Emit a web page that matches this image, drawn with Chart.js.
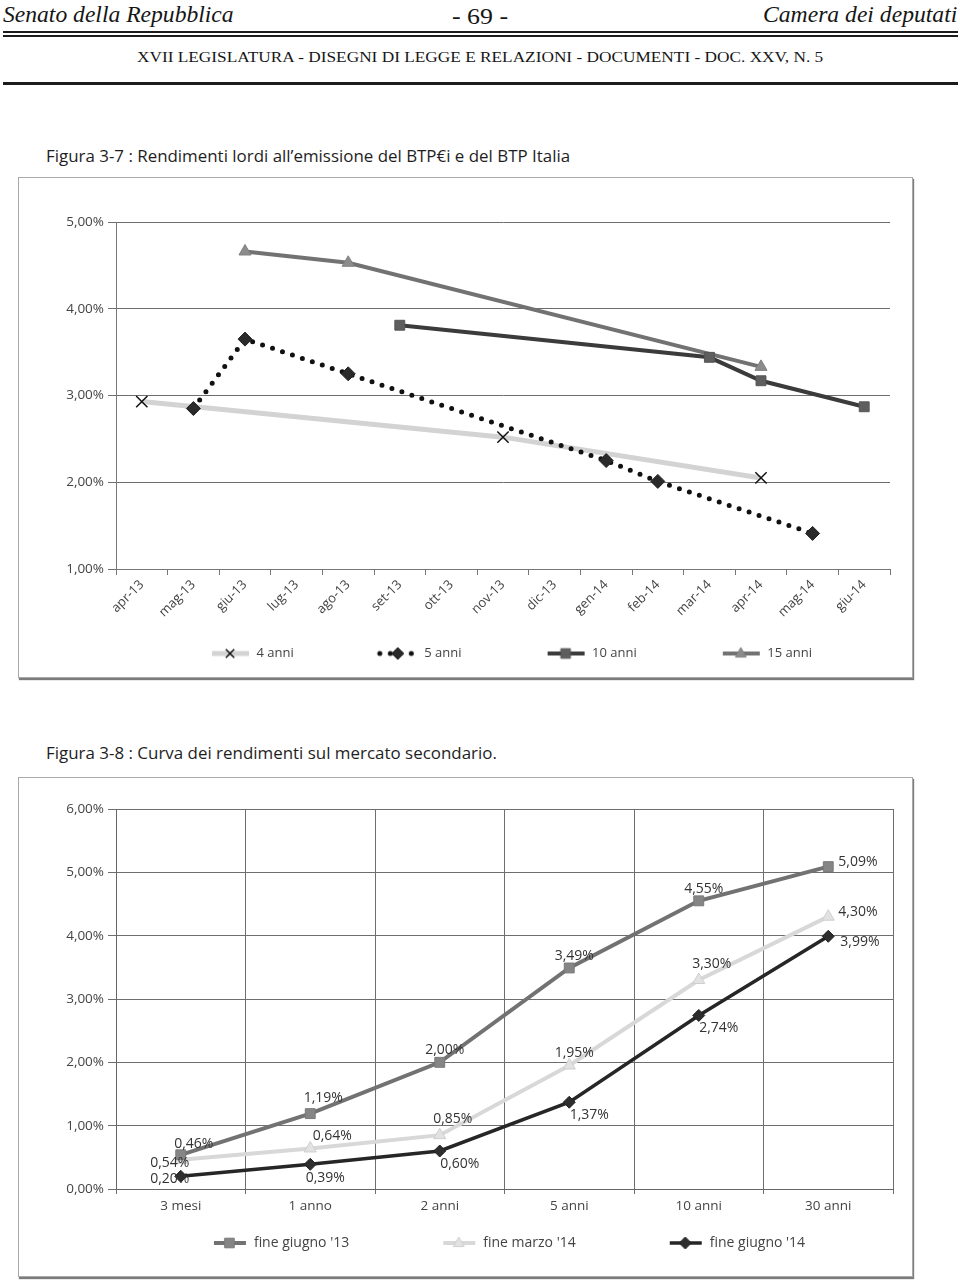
<!DOCTYPE html>
<html lang="it">
<head>
<meta charset="utf-8">
<title>Rendimenti BTP - Figure 3-7 e 3-8</title>
<script src="https://cdn.jsdelivr.net/npm/chart.js@4.4.1/dist/chart.umd.min.js"></script>
<style>
  body { margin: 0; background: #fff; }
  #pagina { position: relative; width: 960px; height: 1281px; overflow: hidden; background: #fff; }
  .testo { position: absolute; white-space: nowrap; transform-origin: 0 50%; }
  .serif { font-family: 'Liberation Serif', 'DejaVu Serif', serif; color: #161616; }
  .riga { position: absolute; left: 3px; width: 955px; background: #1c1c1c; }
  .titolo { font-family: 'Open Sans', sans-serif; font-size: 17px; line-height: 17px; color: #1e1e1e; }
  .riquadro { position: absolute; left: 18px; width: 895px; box-sizing: border-box; border: 1px solid #a9a9a9; box-shadow: 1px 2px 1px #7c7c7c; background: #fff; }
  .riquadro canvas { display: block; }
</style>
</head>
<body>
<div id="pagina">
  <div class="testo serif" style="left:3px; top:2px; font-size:24px; line-height:24px; font-style:italic;" data-w="231">Senato della Repubblica</div>
  <div class="testo serif" style="left:452px; top:4px; font-size:24px; line-height:24px;" data-w="56">- 69 -</div>
  <div class="testo serif" style="left:763px; top:2px; font-size:24px; line-height:24px; font-style:italic;" data-w="194">Camera dei deputati</div>
  <div class="riga" style="top:31px; height:2px;"></div>
  <div class="riga" style="top:35px; height:1.5px;"></div>
  <div class="testo serif" style="left:137px; top:51px; font-size:14px; line-height:14px;" data-w="686">XVII LEGISLATURA - DISEGNI DI LEGGE E RELAZIONI - DOCUMENTI - DOC. XXV, N. 5</div>
  <div class="riga" style="top:82px; height:2.5px;"></div>

  <div class="testo titolo" style="left:46px; top:147px;" data-w="524">Figura 3-7 : Rendimenti lordi all’emissione del BTP€i e del BTP Italia</div>
  <div class="riquadro" style="top:177px; height:501px;"><canvas id="grafico1" width="893" height="499"></canvas></div>

  <div class="testo titolo" style="left:46px; top:744px;" data-w="451">Figura 3-8 : Curva dei rendimenti sul mercato secondario.</div>
  <div class="riquadro" style="top:777px; height:500px;"><canvas id="grafico2" width="893" height="498"></canvas></div>
</div>

<script>
// Figura 3-7: rendimenti lordi all'emissione
const mesi = ['apr-13', 'mag-13', 'giu-13', 'lug-13', 'ago-13', 'set-13', 'ott-13', 'nov-13',
              'dic-13', 'gen-14', 'feb-14', 'mar-14', 'apr-14', 'mag-14', 'giu-14'];
const anni4  = [2.93, null, null, null, null, null, null, 2.52, null, null, null, null, 2.05, null, null];
const anni5  = [null, 2.85, 3.65, null, 3.25, null, null, null, null, 2.25, 2.01, null, null, 1.41, null];
const anni10 = [null, null, null, null, null, 3.81, null, null, null, null, null, 3.44, 3.17, null, 2.87];
const anni15 = [null, null, 4.66, null, 4.53, null, null, null, null, null, null, null, 3.33, null, null];
const tickGrafico1 = [1, 5, 1]; // min, max, passo

// Figura 3-8: curva dei rendimenti sul mercato secondario
const scadenze = ['3 mesi', '1 anno', '2 anni', '5 anni', '10 anni', '30 anni'];
const giugno13 = [0.54, 1.19, 2.00, 3.49, 4.55, 5.09];
const marzo14  = [0.46, 0.64, 0.85, 1.95, 3.30, 4.30];
const giugno14 = [0.20, 0.39, 0.60, 1.37, 2.74, 3.99];
const tickGrafico2 = [0, 6, 1];

const FONT = "'Open Sans', sans-serif";
const GRIGIO_TESTO = '#444';

// adatta in larghezza i testi della pagina (font condensati nell'originale)
document.querySelectorAll('[data-w]').forEach(el => {
    const w = parseFloat(el.dataset.w);
    el.style.transform = `scaleX(${w / el.offsetWidth})`;
});

function percento(v) {
    return v.toFixed(2).replace('.', ',') + '%';
}

// disegna un marcatore come quelli di Excel
function marcatore(g, stile, x, y, r) {
    g.beginPath();
    if (stile === 'rect') {
        g.rect(x - r * 0.8, y - r * 0.8, r * 1.6, r * 1.6);
    } else if (stile === 'triangle') {
        g.moveTo(x, y - r);
        g.lineTo(x + r * 0.9, y + r * 0.6);
        g.lineTo(x - r * 0.9, y + r * 0.6);
        g.closePath();
    } else if (stile === 'rectRot') {
        g.moveTo(x, y - r); g.lineTo(x + r, y); g.lineTo(x, y + r); g.lineTo(x - r, y);
        g.closePath();
    } else if (stile === 'crossRot') {
        const d = r * 0.7;
        g.moveTo(x - d, y - d); g.lineTo(x + d, y + d);
        g.moveTo(x + d, y - d); g.lineTo(x - d, y + d);
        g.stroke();
        return;
    }
    g.fill();
    g.stroke();
}

// icona di legenda: spazio vuoto a sinistra, poi linea con marcatore
function iconaLegenda(ds, vuoto, lungo, raggio) {
    const c = document.createElement('canvas');
    c.width = vuoto + lungo;
    c.height = 16;
    const g = c.getContext('2d');
    g.strokeStyle = ds.borderColor;
    g.lineWidth = ds.borderWidth;
    g.lineCap = ds.borderCapStyle || 'butt';
    g.setLineDash(ds.borderDash || []);
    g.beginPath();
    g.moveTo(vuoto + 2, 8);
    g.lineTo(vuoto + lungo - 1, 8);
    g.stroke();
    g.setLineDash([]);
    g.lineCap = 'butt';
    g.fillStyle = ds.pointBackgroundColor;
    g.strokeStyle = ds.pointBorderColor;
    g.lineWidth = ds.pointBorderWidth;
    marcatore(g, ds.pointStyle, vuoto + lungo / 2, 8, raggio);
    return c;
}

function legendaConLinee(vuoto, lungo, raggio) {
    return function (chart) {
        return chart.data.datasets.map((ds, i) => ({
            text: ds.label,
            pointStyle: iconaLegenda(ds, vuoto, lungo, raggio),
            datasetIndex: i,
            hidden: false,
            lineWidth: 0,
            fontColor: GRIGIO_TESTO
        }));
    };
}

// posizioni delle etichette rispetto al punto
const spostamenti = {
    sopra:    [5, -12, 'center'],
    sopraDx:  [22, -12, 'center'],
    sopraDx2: [13, -16, 'center'],
    sotto:    [15, 14, 'center'],
    sottoDx:  [20, 13, 'center'],
    sottoSx:  [-11, 8, 'center'],
    sinistra: [-11, 3, 'center'],
    destra:   [10, -5, 'left'],
    destraGiu:[12, 6, 'left']
};

const etichetteDati = {
    id: 'etichetteDati',
    afterDatasetsDraw(chart) {
        const ctx = chart.ctx;
        ctx.save();
        ctx.font = '14px ' + FONT;
        ctx.fillStyle = '#333';
        ctx.textBaseline = 'middle';
        chart.data.datasets.forEach((ds, i) => {
            if (!ds.etichette) return;
            chart.getDatasetMeta(i).data.forEach((pt, j) => {
                const [dx, dy, al] = spostamenti[ds.etichette[j]];
                ctx.textAlign = al;
                ctx.fillText(percento(ds.data[j]), pt.x + dx, pt.y + dy);
            });
        });
        ctx.restore();
    }
};

// ---------- Figura 3-7 ----------
const ctx1 = document.getElementById('grafico1').getContext('2d');
new Chart(ctx1, {
    type: 'line',
    data: {
        labels: mesi,
        datasets: [{
            label: '4 anni',
            data: anni4,
            borderColor: '#d3d3d3',
            borderWidth: 5,
            pointStyle: 'crossRot',
            pointRadius: 8,
            pointBorderColor: '#111',
            pointBackgroundColor: 'rgba(0,0,0,0)',
            pointBorderWidth: 1.5,
            spanGaps: true,
            order: 3
        }, {
            label: '5 anni',
            data: anni5,
            borderColor: '#111',
            borderWidth: 5,
            borderDash: [0, 10.5],
            borderCapStyle: 'round',
            pointStyle: 'rectRot',
            pointRadius: 7,
            pointBorderColor: '#222',
            pointBackgroundColor: '#2a2a2a',
            pointBorderWidth: 1,
            spanGaps: true,
            order: 0
        }, {
            label: '10 anni',
            data: anni10,
            borderColor: '#3b3b3b',
            borderWidth: 4,
            pointStyle: 'rect',
            pointRadius: 7,
            pointBorderColor: '#555',
            pointBackgroundColor: '#5e5e5e',
            pointBorderWidth: 1,
            spanGaps: true,
            order: 1
        }, {
            label: '15 anni',
            data: anni15,
            borderColor: '#727272',
            borderWidth: 4,
            pointStyle: 'triangle',
            pointRadius: 7,
            pointBorderColor: '#808080',
            pointBackgroundColor: '#8c8c8c',
            pointBorderWidth: 1,
            spanGaps: true,
            order: 2
        }]
    },
    options: {
        responsive: false,
        animation: false,
        layout: { padding: { left: 39, right: 22, top: 44, bottom: 7 } },
        plugins: {
            tooltip: { enabled: false },
            legend: {
                position: 'bottom',
                labels: {
                    usePointStyle: true,
                    pointStyleWidth: 114,
                    padding: 10,
                    color: GRIGIO_TESTO,
                    font: { family: FONT, size: 13 },
                    generateLabels: legendaConLinee(74, 40, 6)
                }
            }
        },
        scales: {
            x: {
                offset: true,
                afterFit: scale => { scale.height = 68; },
                grid: { offset: true, drawOnChartArea: false, tickLength: 6, color: '#777' },
                border: { color: '#777' },
                ticks: { minRotation: 45, maxRotation: 45, padding: 2, color: GRIGIO_TESTO, font: { family: FONT, size: 13 } }
            },
            y: {
                min: tickGrafico1[0],
                max: tickGrafico1[1],
                afterFit: scale => { scale.width = 58; },
                grid: { color: '#6e6e6e', tickLength: 8 },
                border: { color: '#777' },
                ticks: { stepSize: tickGrafico1[2], padding: 4, color: GRIGIO_TESTO, font: { family: FONT, size: 13.5 }, callback: v => percento(v) }
            }
        }
    }
});

// ---------- Figura 3-8 ----------
const ctx2 = document.getElementById('grafico2').getContext('2d');
new Chart(ctx2, {
    type: 'line',
    data: {
        labels: scadenze,
        datasets: [{
            label: "fine giugno '13",
            data: giugno13,
            borderColor: '#727272',
            borderWidth: 4,
            pointStyle: 'rect',
            pointRadius: 7,
            pointBorderColor: '#7a7a7a',
            pointBackgroundColor: '#858585',
            pointBorderWidth: 1,
            etichette: ['sottoSx', 'sopraDx2', 'sopra', 'sopra', 'sopra', 'destra']
        }, {
            label: "fine marzo '14",
            data: marzo14,
            borderColor: '#d8d8d8',
            borderWidth: 4,
            pointStyle: 'triangle',
            pointRadius: 7,
            pointBorderColor: '#cfcfcf',
            pointBackgroundColor: '#e2e2e2',
            pointBorderWidth: 1,
            etichette: ['sopraDx2', 'sopraDx', 'sopraDx2', 'sopra', 'sopraDx2', 'destra']
        }, {
            label: "fine giugno '14",
            data: giugno14,
            borderColor: '#262626',
            borderWidth: 3.5,
            pointStyle: 'rectRot',
            pointRadius: 6,
            pointBorderColor: '#222',
            pointBackgroundColor: '#2e2e2e',
            pointBorderWidth: 1,
            etichette: ['sinistra', 'sotto', 'sottoDx', 'sottoDx', 'sottoDx', 'destraGiu']
        }]
    },
    options: {
        responsive: false,
        animation: false,
        layout: { padding: { left: 23, right: 19, top: 31, bottom: 16 } },
        plugins: {
            tooltip: { enabled: false },
            legend: {
                position: 'bottom',
                labels: {
                    usePointStyle: true,
                    pointStyleWidth: 117,
                    padding: 10,
                    color: GRIGIO_TESTO,
                    font: { family: FONT, size: 14 },
                    generateLabels: legendaConLinee(82, 35, 6)
                }
            }
        },
        scales: {
            x: {
                offset: true,
                afterFit: scale => { scale.height = 37; },
                grid: { offset: true, tickLength: 5, color: '#6e6e6e' },
                border: { color: '#666' },
                ticks: { padding: 4, color: GRIGIO_TESTO, font: { family: FONT, size: 13.5 } }
            },
            y: {
                min: tickGrafico2[0],
                max: tickGrafico2[1],
                afterFit: scale => { scale.width = 74; },
                grid: { color: '#6e6e6e', tickLength: 8 },
                border: { color: '#666' },
                ticks: { stepSize: tickGrafico2[2], padding: 4, color: GRIGIO_TESTO, font: { family: FONT, size: 13.5 }, callback: v => percento(v) }
            }
        }
    },
    plugins: [etichetteDati]
});
</script>
</body>
</html>
